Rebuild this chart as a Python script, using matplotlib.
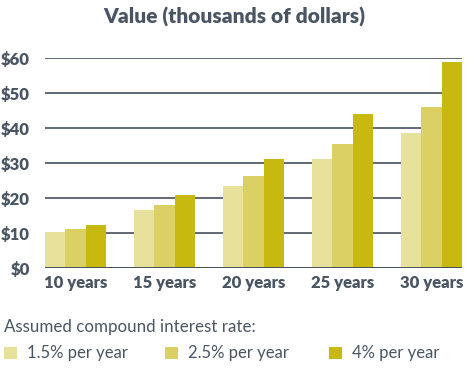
import numpy as np
import matplotlib
matplotlib.use('Agg')
import matplotlib.pyplot as plt
from matplotlib.patches import Rectangle

plt.rcParams['font.family'] = ['Lato', 'DejaVu Sans']

# Data (thousands of dollars)
periods = ['10 years', '15 years', '20 years', '25 years', '30 years']
rate_labels = ['1.5% per year', '2.5% per year', '4% per year']
rate_15 = [10.4, 16.6, 23.5, 31.2, 38.7]
rate_25 = [11.1, 18.0, 26.4, 35.5, 46.1]
rate_40 = [12.3, 20.9, 31.2, 44.1, 58.9]
y_ticks = [0, 10, 20, 30, 40, 50, 60]

colors = ['#e8e19c', '#dbd063', '#c8b910']
text_color = '#4a5563'
grid_color = '#45505c'

fig = plt.figure(figsize=(4.75, 3.71), dpi=100)
ax = fig.add_axes([45 / 475, 1 - 268.3 / 371, 417 / 475, 210 / 371])

x = np.arange(len(periods))
width = 0.228
for i, (vals, c) in enumerate(zip([rate_15, rate_25, rate_40], colors)):
    ax.bar(x + (i - 1) * width, vals, width, color=c, zorder=3, linewidth=0)

ax.set_xlim(-0.343, 4.343)
ax.set_ylim(0, 60)
ax.set_yticks(y_ticks)
ax.set_yticklabels([f'${v}' for v in y_ticks], fontsize=12, fontweight='heavy', color=text_color)
ax.set_xticks(x)
ax.set_xticklabels(periods, fontsize=12, fontweight='heavy', color=text_color)
ax.tick_params(length=0, pad=5)
ax.tick_params(axis='y', pad=11)
ax.yaxis.grid(True, color=grid_color, linewidth=1.2, zorder=0)
ax.set_axisbelow(True)
for s in ax.spines.values():
    s.set_visible(False)
ax.axhline(0, color=grid_color, linewidth=1.4, zorder=4)

fig.text(234 / 475, 1 - 17 / 371, 'Value (thousands of dollars)', ha='center', va='center',
         fontsize=15, fontweight='heavy', color=text_color)

# Legend
fig.text(4 / 475, 1 - 327 / 371, 'Assumed compound interest rate:', ha='left', va='center',
         fontsize=12.2, color=text_color)
sq_x = [4, 165, 329]
for sx, lab, c in zip(sq_x, rate_labels, colors):
    fig.patches.append(Rectangle((sx / 475, 1 - 359 / 371), 13 / 475, 12 / 371,
                                 transform=fig.transFigure, color=c, linewidth=0))
    fig.text((sx + 23) / 475, 1 - 353 / 371, lab, ha='left', va='center',
             fontsize=12, color=text_color)

fig.savefig('out.png', dpi=100)
